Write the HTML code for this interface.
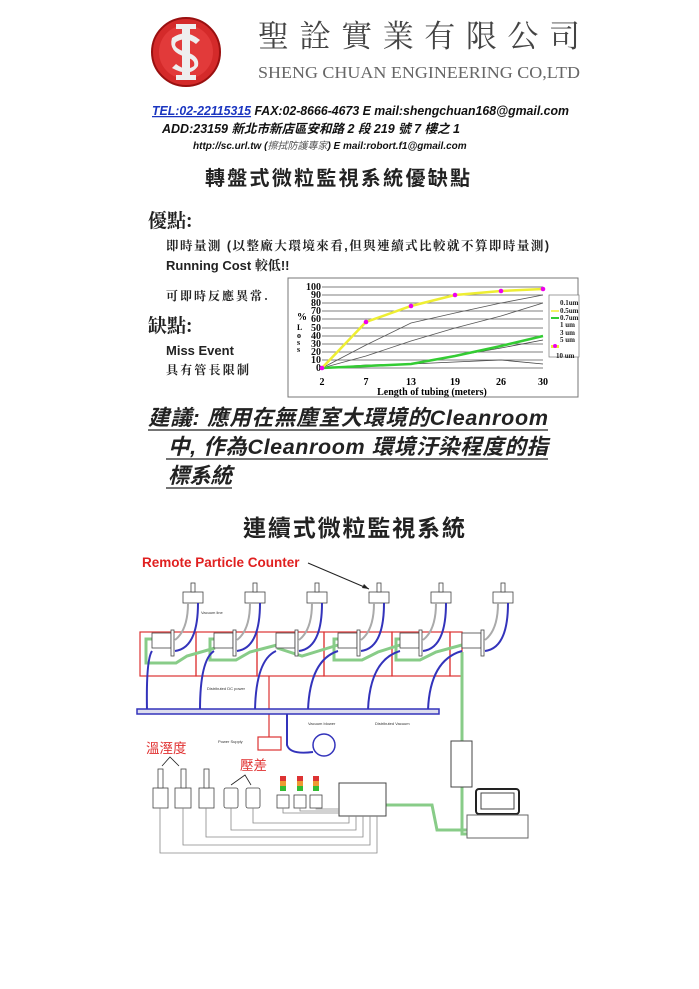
<!DOCTYPE html>
<html><head><meta charset="utf-8"><style>
html,body{margin:0;padding:0;background:#fff;}
body{width:699px;height:989px;position:relative;overflow:hidden;}
svg{position:absolute;left:0;top:0;}
</style></head><body>
<svg width="699" height="989" viewBox="0 0 699 989" xmlns="http://www.w3.org/2000/svg">
<!-- Logo -->
<circle cx="186" cy="52" r="34" fill="#d42a2a" stroke="#9a1010" stroke-width="2"/>
<circle cx="186" cy="52" r="27" fill="#e23a3a"/>
<path d="M172 38 Q186 28 200 40 L196 44 Q186 36 176 42 Q172 48 186 52 Q200 56 198 66 Q190 78 172 68 L176 64 Q186 72 194 66 Q196 60 186 57 Q168 52 172 38Z" fill="#eee"/>
<rect x="182" y="24" width="8" height="56" fill="#eee"/>
<rect x="176" y="24" width="20" height="5" fill="#eee"/>
<rect x="176" y="75" width="20" height="5" fill="#eee"/>
<text x="258" y="47" font-family="'Noto Serif CJK SC',serif" font-size="31" fill="#444" textLength="322" lengthAdjust="spacing">聖詮實業有限公司</text>
<text x="258" y="78" font-family="'Liberation Serif',serif" font-size="17" fill="#666" textLength="322" lengthAdjust="spacingAndGlyphs">SHENG CHUAN ENGINEERING CO,LTD</text>
<text x="152" y="115" font-family="'Liberation Sans','Noto Sans CJK TC',sans-serif" font-size="12.5" font-weight="bold" font-style="italic" textLength="417" lengthAdjust="spacingAndGlyphs"><tspan fill="#1a35c0" text-decoration="underline">TEL:02-22115315</tspan><tspan fill="#111"> FAX:02-8666-4673 E mail:shengchuan168@gmail.com</tspan></text>
<text x="162" y="133" font-family="'Liberation Sans','Noto Sans CJK TC',sans-serif" font-size="12.5" font-weight="bold" font-style="italic" fill="#111">ADD:23159  新北市新店區安和路 2 段 219 號 7 樓之 1</text>
<text x="193" y="149" font-family="'Liberation Sans','Noto Sans CJK TC',sans-serif" font-size="10" font-weight="bold" font-style="italic" fill="#111">http://sc.url.tw (<tspan font-weight="normal" fill="#555">擦拭防護專家</tspan>) E mail:robort.f1@gmail.com</text>
<text x="205" y="185" font-family="'Noto Sans CJK TC',sans-serif" font-size="20" font-weight="bold" fill="#222" textLength="265" lengthAdjust="spacing">轉盤式微粒監視系統優缺點</text>

<text x="148" y="227" font-family="'Noto Serif CJK SC',serif" font-size="19" font-weight="bold" fill="#222">優點:</text>
<text x="166" y="250" font-family="'Liberation Sans','Noto Serif CJK TC',serif" font-size="12.5" font-weight="bold" fill="#222" textLength="383" lengthAdjust="spacing">即時量測 (以整廠大環境來看,但與連續式比較就不算即時量測)</text>
<text x="166" y="270" font-family="'Liberation Sans','Noto Serif CJK TC',sans-serif" font-size="13" font-weight="bold" fill="#222">Running Cost 較低!!</text>
<text x="166" y="300" font-family="'Noto Serif CJK TC',serif" font-size="12" font-weight="bold" fill="#222" textLength="102" lengthAdjust="spacing">可即時反應異常.</text>
<text x="148" y="332" font-family="'Noto Serif CJK SC',serif" font-size="19" font-weight="bold" fill="#222">缺點:</text>
<text x="166" y="355" font-family="'Liberation Sans',sans-serif" font-size="13" font-weight="bold" fill="#222">Miss Event</text>
<text x="166" y="374" font-family="'Noto Serif CJK TC',serif" font-size="12" font-weight="bold" fill="#222" textLength="83" lengthAdjust="spacing">具有管長限制</text>

<!-- Chart -->
<rect x="288" y="278" width="290" height="119" fill="#fff" stroke="#777"/>
<g stroke="#555" stroke-width="0.7">
<line x1="322" y1="287" x2="543" y2="287"/><line x1="322" y1="295" x2="543" y2="295"/><line x1="322" y1="303" x2="543" y2="303"/><line x1="322" y1="311" x2="543" y2="311"/><line x1="322" y1="319" x2="543" y2="319"/><line x1="322" y1="328" x2="543" y2="328"/><line x1="322" y1="336" x2="543" y2="336"/><line x1="322" y1="344" x2="543" y2="344"/><line x1="322" y1="352" x2="543" y2="352"/><line x1="322" y1="360" x2="543" y2="360"/><line x1="322" y1="368" x2="543" y2="368"/>
</g>
<g font-family="'Liberation Serif',serif" font-size="10" font-weight="bold" fill="#111" text-anchor="end">
<text x="321" y="290">100</text><text x="321" y="298">90</text><text x="321" y="306">80</text><text x="321" y="314">70</text><text x="321" y="322">60</text><text x="321" y="331">50</text><text x="321" y="339">40</text><text x="321" y="347">30</text><text x="321" y="355">20</text><text x="321" y="363">10</text><text x="321" y="371">0</text>
</g>
<text x="297" y="320" font-family="'Liberation Serif',serif" font-size="10" font-weight="bold">%</text>
<text x="297" y="330" font-family="'Liberation Serif',serif" font-size="8" font-weight="bold">L</text>
<text x="297" y="338" font-family="'Liberation Serif',serif" font-size="8" font-weight="bold">o</text>
<text x="297" y="345" font-family="'Liberation Serif',serif" font-size="8" font-weight="bold">s</text>
<text x="297" y="352" font-family="'Liberation Serif',serif" font-size="8" font-weight="bold">s</text>
<g font-family="'Liberation Serif',serif" font-size="10" font-weight="bold" text-anchor="middle">
<text x="322" y="385">2</text><text x="366" y="385">7</text><text x="411" y="385">13</text><text x="455" y="385">19</text><text x="501" y="385">26</text><text x="543" y="385">30</text>
<text x="432" y="395">Length of tubing (meters)</text>
</g>
<polyline points="322,368 366,366 411,364 455,362 501,360 543,364" fill="none" stroke="#444" stroke-width="0.8"/>
<polyline points="322,368 366,365 411,364 455,356 501,348 543,340" fill="none" stroke="#444" stroke-width="0.8"/>
<polyline points="322,368 366,356 411,341 455,328 501,316 543,303" fill="none" stroke="#555" stroke-width="0.8"/>
<polyline points="322,368 366,345 411,323 455,313 501,303 543,295" fill="none" stroke="#555" stroke-width="0.8"/>
<polyline points="322,368 366,366 411,364 455,356 501,346 543,336" fill="none" stroke="#3c3" stroke-width="2.5"/>
<polyline points="322,368 366,322 411,306 455,295 501,291 543,289" fill="none" stroke="#ee3" stroke-width="2.5"/>
<g fill="#e0e">
<circle cx="322" cy="368" r="2.3"/><circle cx="366" cy="322" r="2.3"/><circle cx="411" cy="306" r="2.3"/><circle cx="455" cy="295" r="2.3"/><circle cx="501" cy="291" r="2.3"/><circle cx="543" cy="289" r="2.3"/>
</g>
<rect x="549" y="295" width="30" height="62" fill="#fff" stroke="#777" stroke-width="0.7"/>
<g font-family="'Liberation Serif',serif" font-size="7" font-weight="bold" fill="#222">
<text x="560" y="305">0.1um</text><text x="560" y="313">0.5um</text><text x="560" y="320">0.7um</text><text x="560" y="327">1 um</text><text x="560" y="335">3 um</text><text x="560" y="342">5 um</text><text x="556" y="358">10 um</text>
</g>
<line x1="551" y1="318" x2="559" y2="318" stroke="#3c3" stroke-width="2"/>
<line x1="551" y1="311" x2="559" y2="311" stroke="#ee3" stroke-width="1.5"/>
<rect x="551" y="345" width="8" height="3" fill="#ee3"/><circle cx="555" cy="346" r="2" fill="#e0e"/>

<!-- Suggestion -->
<g font-family="'Liberation Sans','Noto Sans CJK TC',sans-serif" font-size="21.5" font-weight="bold" font-style="italic" fill="#222">
<text x="148" y="425" textLength="400" lengthAdjust="spacing">建議: 應用在無塵室大環境的Cleanroom</text>
<text x="168" y="454" textLength="380" lengthAdjust="spacing">中, 作為Cleanroom 環境汙染程度的指</text>
<text x="168" y="483" textLength="64" lengthAdjust="spacing">標系統</text>
</g>
<line x1="148" y1="430" x2="548" y2="430" stroke="#222" stroke-width="1.2"/>
<line x1="166" y1="459" x2="548" y2="459" stroke="#222" stroke-width="1.2"/>
<line x1="166" y1="488" x2="232" y2="488" stroke="#222" stroke-width="1.2"/>

<text x="243" y="536" font-family="'Noto Sans CJK TC',sans-serif" font-size="23" font-weight="bold" fill="#222" textLength="222" lengthAdjust="spacing">連續式微粒監視系統</text>

<!-- Diagram -->
<text x="142" y="567" font-family="'Liberation Sans',sans-serif" font-size="13.5" font-weight="bold" fill="#e02020">Remote Particle Counter</text>
<line x1="308" y1="563" x2="369" y2="589" stroke="#222" stroke-width="1"/>
<polygon points="369,589 362,588 364,584" fill="#222"/>

<g fill="none" stroke="#d33" stroke-width="1.2">
<rect x="140" y="632" width="56" height="44"/><rect x="196" y="632" width="61" height="44"/><rect x="257" y="632" width="67" height="44"/><rect x="324" y="632" width="68" height="44"/><rect x="392" y="632" width="58" height="44"/><rect x="450" y="632" width="12" height="44"/>
<polyline points="269,676 269,737"/>
<rect x="258" y="737" width="23" height="13"/>
</g>
<g fill="none" stroke="#8c8" stroke-width="3">
<polyline points="152,639 146,639 146,663 176,663 187,656 215,648"/>
<polyline points="215,639 210,639 210,660 236,660 250,652 277,645"/>
<polyline points="277,648 302,656 338,645"/>
<polyline points="338,639 334,639 334,660 362,660 378,652 400,645"/>
<polyline points="400,639 396,639 396,660 420,660 436,652 462,645"/>
<polyline points="462,652 462,772"/>
<polyline points="462,787 462,834 467,834"/>
<polyline points="386,805 432,805 437,830 467,830"/>
</g>
<g id="u">
<g fill="#fff" stroke="#444" stroke-width="0.8">
<rect x="183" y="592" width="20" height="11"/>
<rect x="191" y="583" width="4" height="9"/>
<rect x="152" y="633" width="19" height="15"/>
<rect x="171" y="630" width="3" height="26"/>
</g>
<path d="M188 603 Q188 630 175 640" fill="none" stroke="#aaa" stroke-width="2"/>
<path d="M198 603 Q198 648 175 651" fill="none" stroke="#33b" stroke-width="2"/>
</g>
<use href="#u" x="62"/><use href="#u" x="124"/><use href="#u" x="186"/><use href="#u" x="248"/><use href="#u" x="310"/>
<g fill="none" stroke="#33b" stroke-width="2">
<path d="M152 651 Q146 660 147 710"/>
<path d="M214 651 Q200 660 200 710"/>
<path d="M276 651 Q256 660 255 710"/>
<path d="M338 651 Q310 660 308 710"/>
<path d="M400 651 Q370 660 368 710"/>
<path d="M462 651 Q430 660 428 710"/>
<path d="M287 714 L287 745 Q290 755 313 752"/>
</g>
<rect x="137" y="709" width="302" height="5" fill="#dde" stroke="#33b" stroke-width="1.5"/>
<circle cx="324" cy="745" r="11" fill="#fff" stroke="#33b" stroke-width="1.5"/>
<g font-family="'Liberation Sans',sans-serif" font-size="4" fill="#333">
<text x="201" y="614">Vacuum line</text><text x="207" y="690">Distributed DC power</text><text x="308" y="725">Vacuum blower</text><text x="375" y="725">Distributed Vacuum</text><text x="218" y="743">Power Supply</text>
<text x="341" y="797">Programmable Logic</text><text x="347" y="803">Controller</text>
</g>
<rect x="451" y="741" width="21" height="46" fill="#fff" stroke="#444"/>
<rect x="476" y="789" width="43" height="25" rx="3" fill="#fff" stroke="#222" stroke-width="2"/>
<rect x="481" y="793" width="33" height="16" fill="#fff" stroke="#444"/>
<rect x="467" y="815" width="61" height="23" fill="#fff" stroke="#666"/>
<rect x="339" y="783" width="47" height="33" fill="#fff" stroke="#444"/>
<g fill="#fff" stroke="#444" stroke-width="0.8">
<rect x="153" y="788" width="15" height="20"/><rect x="158" y="769" width="5" height="19"/>
<rect x="175" y="788" width="16" height="20"/><rect x="181" y="769" width="5" height="19"/>
<rect x="199" y="788" width="15" height="20"/><rect x="204" y="769" width="5" height="19"/>
<rect x="224" y="788" width="14" height="20" rx="2"/>
<rect x="246" y="788" width="14" height="20" rx="2"/>
<rect x="277" y="795" width="12" height="13"/><rect x="294" y="795" width="12" height="13"/><rect x="310" y="795" width="12" height="13"/>
</g>
<g>
<rect x="280" y="776" width="6" height="5" fill="#d33"/><rect x="280" y="781" width="6" height="5" fill="#e93"/><rect x="280" y="786" width="6" height="5" fill="#3b3"/>
<rect x="297" y="776" width="6" height="5" fill="#d33"/><rect x="297" y="781" width="6" height="5" fill="#e93"/><rect x="297" y="786" width="6" height="5" fill="#3b3"/>
<rect x="313" y="776" width="6" height="5" fill="#d33"/><rect x="313" y="781" width="6" height="5" fill="#e93"/><rect x="313" y="786" width="6" height="5" fill="#3b3"/>
</g>
<g fill="none" stroke="#888" stroke-width="0.8">
<polyline points="160,808 160,853 377,853 377,816"/>
<polyline points="183,808 183,845 370,845 370,816"/>
<polyline points="206,808 206,837 363,837 363,816"/>
<polyline points="231,808 231,830 356,830 356,816"/>
<polyline points="253,808 253,823 349,823 349,816"/>
<polyline points="283,808 283,813 339,813"/>
<polyline points="300,808 300,811 339,811"/>
<polyline points="316,808 316,809 339,809"/>
</g>
<text x="146" y="753" font-family="'Noto Sans CJK TC',sans-serif" font-size="13.5" fill="#e03030">溫溼度</text>
<text x="240" y="770" font-family="'Noto Sans CJK TC',sans-serif" font-size="13.5" fill="#e03030">壓差</text>
<polyline points="162,766 170,757 179,766" fill="none" stroke="#222" stroke-width="0.8"/>
<polyline points="231,785 245,775 251,785" fill="none" stroke="#222" stroke-width="0.8"/>
</svg>
</body></html>
